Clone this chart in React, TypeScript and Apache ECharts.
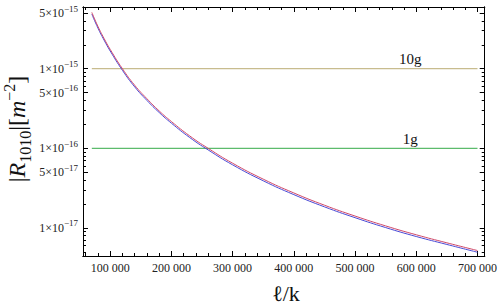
import React, { useEffect, useRef } from "react";
import * as echarts from "echarts";

// ---- data ----
const ellK = [70000, 80000, 90000, 100000, 120000, 140000, 160000, 180000, 200000, 230000, 260000, 300000, 350000, 400000, 450000, 500000, 550000, 600000, 650000, 700000];
const rRed = [5.1e-15, 3.4e-15, 2.4e-15, 1.75e-15, 1.0e-15, 6.2e-16, 4.2e-16, 2.95e-16, 2.17e-16, 1.43e-16, 1.0e-16, 6.5e-17, 4.1e-17, 2.75e-17, 1.93e-17, 1.41e-17, 1.06e-17, 8.2e-18, 6.5e-18, 5.2e-18];
const rBlue = [4.86e-15, 3.24e-15, 2.29e-15, 1.67e-15, 0.955e-15, 5.92e-16, 4.0e-16, 2.82e-16, 2.07e-16, 1.365e-16, 0.955e-16, 6.2e-17, 3.91e-17, 2.62e-17, 1.84e-17, 1.345e-17, 1.01e-17, 7.8e-18, 6.2e-18, 4.95e-18];

const levelValues = [1e-15, 1e-16];
const levelNames = ["10g", "1g"];
const levelFrom = 70000;
const levelTo = 700000;
const levelLabelAt = 590000;

const xMajorTicks = [100000, 200000, 300000, 400000, 500000, 600000, 700000];
const xMinorTicks = [60000, 80000, 120000, 140000, 160000, 180000, 220000, 240000, 260000, 280000, 320000, 340000, 360000, 380000, 420000, 440000, 460000, 480000, 520000, 540000, 560000, 580000, 620000, 640000, 660000, 680000];
const yMajorTicks = [5e-15, 1e-15, 5e-16, 1e-16, 5e-17, 1e-17];
const yMinorTicks = [5e-18, 6e-18, 7e-18, 8e-18, 9e-18, 2e-17, 3e-17, 4e-17, 6e-17, 7e-17, 8e-17, 9e-17, 2e-16, 3e-16, 4e-16, 6e-16, 7e-16, 8e-16, 9e-16, 2e-15, 3e-15, 4e-15];

const xRange = [55600, 711800];
const yRange = [4.44e-18, 5.96e-15];

// ---- styles ----
const SERIF = "'Liberation Serif', 'DejaVu Serif', serif";
const levelColors = ["#c8bc8e", "#5cbb6c"];
const redColor = "#d04a6a";
const blueColor = "#4a4ad6";

function fmtX(v: number) {
  const s = String(Math.round(v));
  return s.replace(/\B(?=(\d{3})+(?!\d))/g, " ");
}
function fmtY(v: number) {
  const e = Math.floor(Math.log10(v) + 1e-9);
  const m = Math.round(v / Math.pow(10, e));
  return "{b|" + m + "×10}{s|−" + Math.abs(e) + "}";
}

export default function App() {
  const ref = useRef<HTMLDivElement>(null);
  useEffect(() => {
    if (!ref.current) return;
    const chart = echarts.init(ref.current, null, { renderer: "svg" });
    const frame = { show: true, onZero: false, lineStyle: { color: "#000", width: 1 } };
    const xAx = (pos: string, ticks: number[], len: number, labels: boolean) => ({
      type: "value",
      position: pos,
      min: xRange[0],
      max: xRange[1],
      axisLine: frame,
      splitLine: { show: false },
      axisTick: { show: true, inside: true, length: len, customValues: ticks, lineStyle: { color: "#000" } },
      axisLabel: labels
        ? { show: true, customValues: ticks, formatter: fmtX, fontFamily: SERIF, fontSize: 12, color: "#222", margin: 6 }
        : { show: false },
    });
    const yAx = (pos: string, ticks: number[], len: number, labels: boolean) => ({
      type: "log",
      logBase: 10,
      position: pos,
      min: yRange[0],
      max: yRange[1],
      axisLine: frame,
      splitLine: { show: false },
      minorTick: { show: false },
      axisTick: { show: true, inside: true, length: len, customValues: ticks, lineStyle: { color: "#000" } },
      axisLabel: labels
        ? {
            show: true,
            customValues: ticks,
            formatter: fmtY,
            margin: 5,
            color: "#222",
            rich: {
              b: { fontFamily: SERIF, fontSize: 12, lineHeight: 18, verticalAlign: "middle", color: "#222" },
              s: { fontFamily: SERIF, fontSize: 9, lineHeight: 10, verticalAlign: "top", color: "#222" },
            },
          }
        : { show: false },
    });

    const levelSeries = levelValues.map((lv, i) => ({
      type: "line",
      xAxisIndex: 0,
      yAxisIndex: 0,
      symbol: "circle",
      symbolSize: 0,
      showSymbol: true,
      lineStyle: { color: levelColors[i], width: 1.2 },
      itemStyle: { color: levelColors[i] },
      data: [
        [levelFrom, lv],
        {
          value: [levelLabelAt, lv],
          label: { show: true, position: "top", distance: 2, formatter: levelNames[i], fontFamily: SERIF, fontSize: 15, color: "#111" },
        },
        [levelTo, lv],
      ],
      z: 2,
    }));

    chart.setOption({
      animation: false,
      backgroundColor: "#fff",
      grid: { left: 83, top: 7, right: 12, bottom: 48 },
      xAxis: [
        xAx("bottom", xMajorTicks, 5, true),
        xAx("bottom", xMinorTicks, 3, false),
        xAx("top", xMajorTicks, 5, false),
        xAx("top", xMinorTicks, 3, false),
      ],
      yAxis: [
        yAx("left", yMajorTicks, 5, true),
        yAx("left", yMinorTicks, 3, false),
        yAx("right", yMajorTicks, 5, false),
        yAx("right", yMinorTicks, 3, false),
      ],
      series: [
        ...levelSeries,
        {
          type: "line",
          xAxisIndex: 0,
          yAxisIndex: 0,
          smooth: true,
          showSymbol: false,
          lineStyle: { color: blueColor, width: 1 },
          data: ellK.map((x, i) => [x, rBlue[i]]),
          z: 3,
        },
        {
          type: "line",
          xAxisIndex: 0,
          yAxisIndex: 0,
          smooth: true,
          showSymbol: false,
          lineStyle: { color: redColor, width: 1 },
          data: ellK.map((x, i) => [x, rRed[i]]),
          z: 4,
        },
      ],
      graphic: [
        {
          type: "text",
          x: 17,
          y: 129,
          rotation: Math.PI / 2,
          style: {
            text: "{n||}{i|R}{sub|1010}{n||[}{i|m}{sup|−2}{n|]}",
            align: "center",
            verticalAlign: "middle",
            fill: "#111",
            rich: {
              n: { fontFamily: SERIF, fontSize: 24, lineHeight: 32, verticalAlign: "middle", fill: "#111" },
              i: { fontFamily: SERIF, fontSize: 24, fontStyle: "italic", lineHeight: 32, verticalAlign: "middle", fill: "#111" },
              sub: { fontFamily: SERIF, fontSize: 16, lineHeight: 16, verticalAlign: "bottom", fill: "#111" },
              sup: { fontFamily: SERIF, fontSize: 16, lineHeight: 16, verticalAlign: "top", fill: "#111" },
            },
          },
        },
        {
          type: "text",
          x: 286,
          y: 293,
          style: {
            text: "ℓ/k",
            font: "22px " + SERIF,
            align: "center",
            verticalAlign: "middle",
            fill: "#111",
          },
        },
      ],
    });
    return () => chart.dispose();
  }, []);
  return <div ref={ref} style={{ position: "fixed", left: 0, top: 0, width: 500, height: 304 }} />;
}
